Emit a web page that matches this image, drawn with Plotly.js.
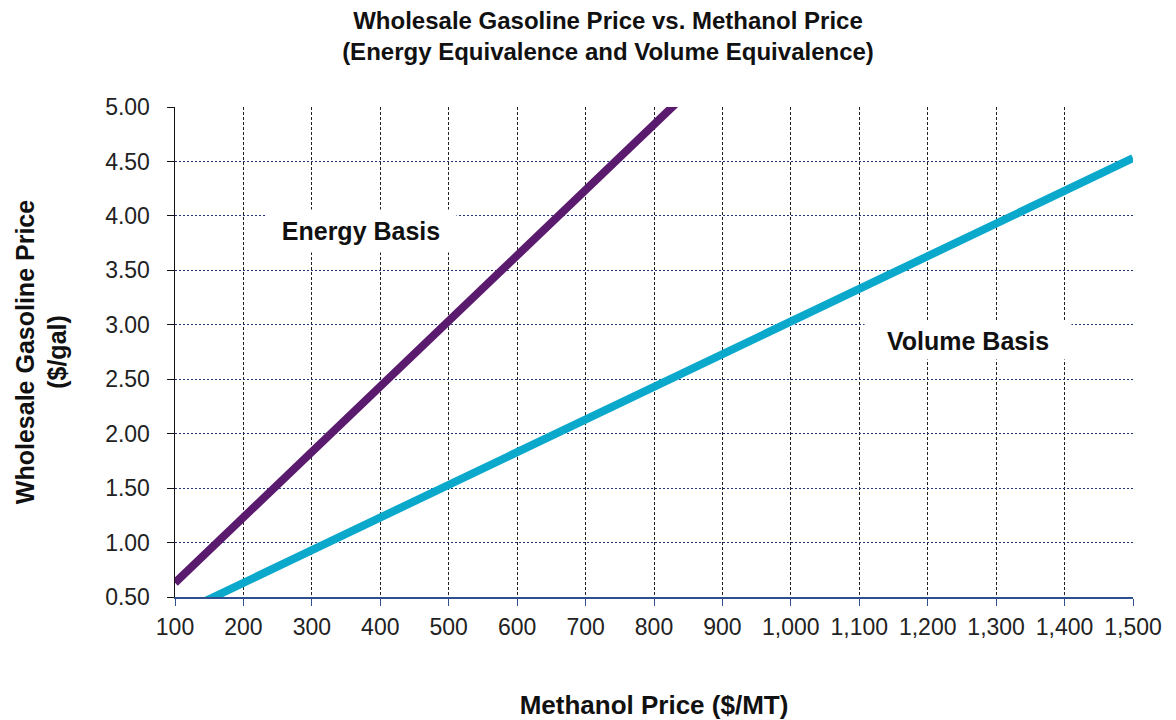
<!DOCTYPE html>
<html>
<head>
<meta charset="utf-8">
<script src="https://cdn.plot.ly/plotly-3.0.1.min.js"></script>
<style>html,body{margin:0;padding:0;background:#fff;}#chart{width:1176px;height:720px;}</style>
</head>
<body>
<div id="chart"></div>
<script>
// Methanol price ($/MT)
const methanolPrice = [100,150,200,250,300,350,400,450,500,550,600,650,700,750,800,850,900,950,1000,1050,1100,1150,1200,1250,1300,1350,1400,1450,1500];
// Energy basis gasoline price ($/gal)
const energyBasis = [0.63,0.93,1.23,1.53,1.83,2.13,2.43,2.73,3.03,3.33,3.63,3.94,4.24,4.54,4.84,5.14];
// Volume basis gasoline price ($/gal)
const volumeBasis = [0.33,0.48,0.63,0.78,0.93,1.08,1.23,1.38,1.53,1.68,1.83,1.98,2.13,2.28,2.43,2.58,2.73,2.88,3.03,3.18,3.33,3.48,3.63,3.78,3.93,4.08,4.23,4.38,4.53];
const xTicks = [100,200,300,400,500,600,700,800,900,1000,1100,1200,1300,1400,1500];
const yTicks = [0.5,1.0,1.5,2.0,2.5,3.0,3.5,4.0,4.5,5.0];

const font = "Liberation Sans, Arial, sans-serif";

const traces = [
  {x: methanolPrice.slice(0, energyBasis.length), y: energyBasis, mode: 'lines', name: 'Energy Basis',
   line: {color: '#5a1a6e', width: 8}, cliponaxis: true},
  {x: methanolPrice, y: volumeBasis, mode: 'lines', name: 'Volume Basis',
   line: {color: '#0aa9cc', width: 8}, cliponaxis: true}
];

const layout = {
  width: 1176, height: 720,
  margin: {l: 175, r: 43, t: 107, b: 123},
  paper_bgcolor: '#fff', plot_bgcolor: '#fff',
  showlegend: false,
  font: {family: font, color: '#222', size: 23},
  title: {
    text: '<b>Wholesale Gasoline Price vs. Methanol Price</b><br><b>(Energy Equivalence and Volume Equivalence)</b>',
    font: {family: font, size: 24, color: '#111'},
    x: 0.517, xanchor: 'center', xref: 'container',
    y: 0.96, yanchor: 'top', yref: 'container'
  },
  xaxis: {
    range: [100, 1500], tickvals: xTicks, tickformat: ',',
    showgrid: true, gridcolor: '#222', griddash: '3px,2px', gridwidth: 1,
    showline: true, linecolor: '#2f4f8f', linewidth: 1.5,
    ticks: 'outside', ticklen: 7, tickcolor: '#2f4f8f',
    tickfont: {family: font, size: 23, color: '#222'},
    ticklabelstandoff: 2,
    zeroline: false,
    title: {text: '<b>Methanol Price ($/MT)</b>', font: {family: font, size: 26, color: '#111'}, standoff: 61}
  },
  yaxis: {
    range: [0.5, 5.0], tickvals: yTicks, tickformat: '.2f',
    showgrid: true, gridcolor: '#1f3470', griddash: '2px,2px', gridwidth: 1,
    showline: true, linecolor: '#111', linewidth: 1.5,
    ticks: 'outside', ticklen: 7, tickcolor: '#111',
    tickfont: {family: font, size: 23, color: '#222'},
    ticklabelstandoff: 12,
    zeroline: false,
    title: {text: '<b>Wholesale Gasoline Price</b><br><b>($/gal)</b>', font: {family: font, size: 25, color: '#111'}, standoff: 31}
  },
  annotations: [
    {x: 372, y: 3.86, xref: 'x', yref: 'y', text: '<b>Energy Basis</b>', showarrow: false,
     font: {family: font, size: 25, color: '#111'}, bgcolor: '#fff', width: 178, height: 30, borderpad: 6},
    {x: 1259, y: 2.86, xref: 'x', yref: 'y', text: '<b>Volume Basis</b>', showarrow: false,
     font: {family: font, size: 25, color: '#111'}, bgcolor: '#fff', width: 196, height: 27, borderpad: 5}
  ]
};

Plotly.newPlot('chart', traces, layout, {displayModeBar: false, staticPlot: true});
</script>
</body>
</html>
